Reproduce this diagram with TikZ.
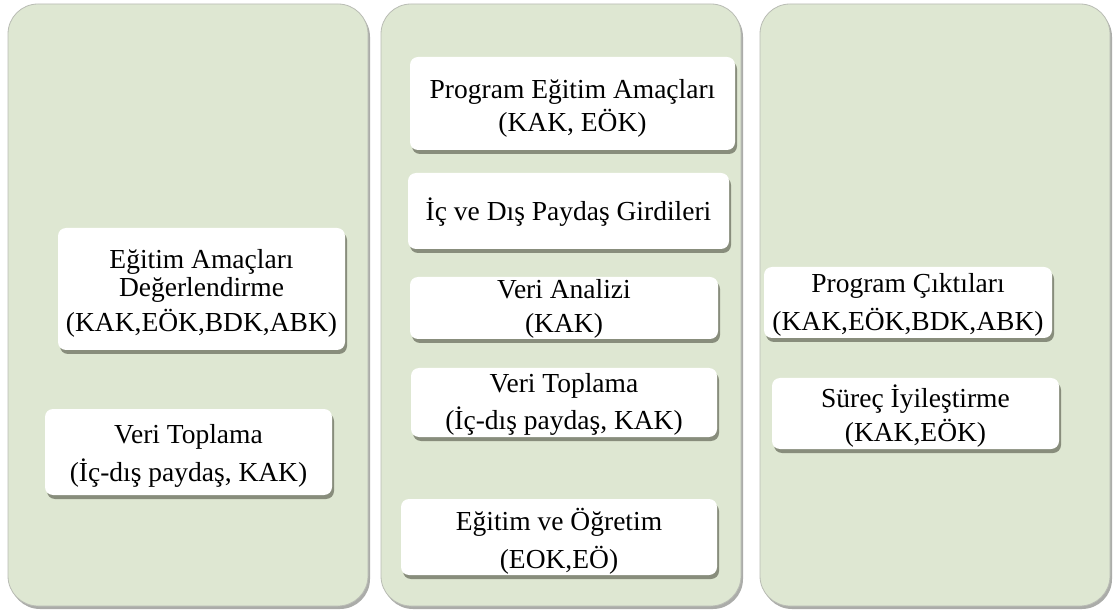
\documentclass[tikz,border=0pt]{standalone}
\usepackage{fontspec}
\setmainfont{Liberation Serif}
\usetikzlibrary{shadows}
\definecolor{panelfill}{RGB}{222,231,210}
\definecolor{panelline}{RGB}{185,188,180}
\definecolor{panelshadow}{RGB}{150,152,148}
\definecolor{boxshadow}{RGB}{136,141,124}
\begin{document}
\begin{tikzpicture}[x=1pt,y=-1pt,
  panel/.style={fill=panelfill, draw=panelline, line width=0.8pt, rounded corners=30pt,
    inner sep=0pt, drop shadow={shadow xshift=2pt, shadow yshift=-3pt, fill=panelshadow, opacity=0.8}},
  box/.style={fill=white, draw=none, rounded corners=8pt, inner sep=0pt,
    drop shadow={shadow xshift=2pt, shadow yshift=-4pt, fill=boxshadow, opacity=1}},
  txt/.style={font=\fontsize{27.5}{30}\selectfont, anchor=base, inner sep=0pt, text=black}]
\fill[white] (0,0) rectangle (1117,612);
\useasboundingbox (0,0) rectangle (1117,612);
% panels
\node[panel, minimum width=360pt, minimum height=602pt] (p1) at (188,305) {};
\node[panel, minimum width=360pt, minimum height=602pt] (p2) at (561,305) {};
\node[panel, minimum width=350pt, minimum height=602pt] (p3) at (935,305) {};
% left boxes
\node[box, minimum width=287pt, minimum height=122pt] (b1) at (201.5,289) {};
\node[txt] (b1a) at (201.5,269) {Eğitim Amaçları};
\node[txt] (b1b) at (201.5,297) {Değerlendirme};
\node[txt] (b1c) at (201.5,332) {(KAK,EÖK,BDK,ABK)};
\node[box, minimum width=287pt, minimum height=86pt] (b2) at (188.5,452) {};
\node[txt] (b2a) at (188.5,443) {Veri Toplama};
\node[txt] (b2b) at (188.5,481) {(İç-dış paydaş, KAK)};
% middle boxes
\node[box, minimum width=325pt, minimum height=93pt] (m1) at (572.5,103.5) {};
\node[txt] (m1a) at (572.5,99) {Program Eğitim Amaçları};
\node[txt] (m1b) at (572.5,132) {(KAK, EÖK)};
\node[box, minimum width=321pt, minimum height=76pt] (m2) at (568.5,211) {};
\node[txt] (m2a) at (568.5,221) {İç ve Dış Paydaş Girdileri};
\node[box, minimum width=308pt, minimum height=62pt] (m3) at (564,308) {};
\node[txt] (m3a) at (564,299) {Veri Analizi};
\node[txt] (m3b) at (564,333) {(KAK)};
\node[box, minimum width=306pt, minimum height=69pt] (m4) at (564,402.5) {};
\node[txt] (m4a) at (564,392) {Veri Toplama};
\node[txt] (m4b) at (564,429) {(İç-dış paydaş, KAK)};
\node[box, minimum width=316pt, minimum height=76pt] (m5) at (559,537) {};
\node[txt] (m5a) at (559,530) {Eğitim ve Öğretim};
\node[txt] (m5b) at (559,568) {(EOK,EÖ)};
% right boxes
\node[box, minimum width=288pt, minimum height=71pt] (r1) at (908,302.5) {};
\node[txt] (r1a) at (908,293) {Program Çıktıları};
\node[txt] (r1b) at (908,331) {(KAK,EÖK,BDK,ABK)};
\node[box, minimum width=287pt, minimum height=71pt] (r2) at (915.5,413.5) {};
\node[txt] (r2a) at (915.5,407) {Süreç İyileştirme};
\node[txt] (r2b) at (915.5,441) {(KAK,EÖK)};
\end{tikzpicture}
\end{document}
